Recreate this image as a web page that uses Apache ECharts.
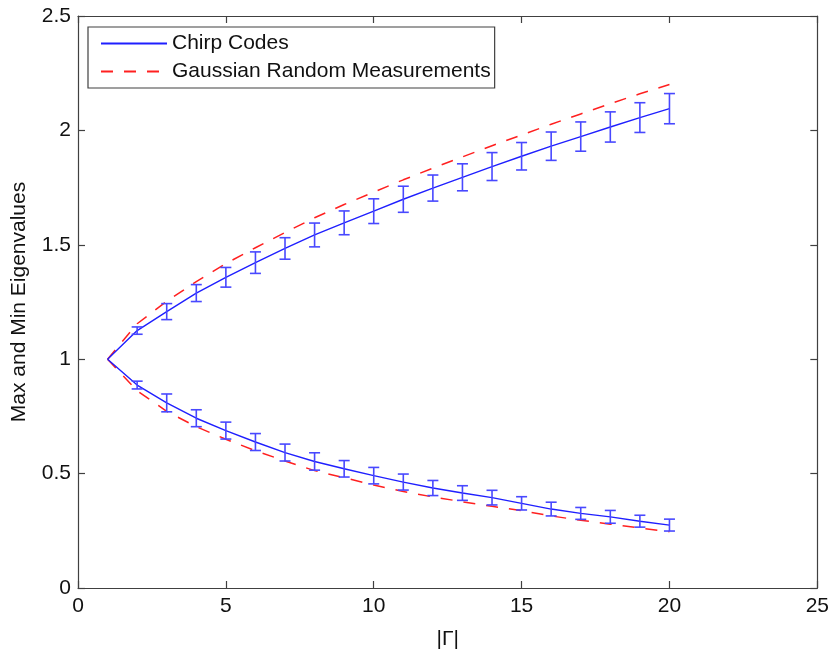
<!DOCTYPE html>
<html>
<head>
<meta charset="utf-8">
<title>Max and Min Eigenvalues</title>
<script src="https://cdn.jsdelivr.net/npm/echarts@6/dist/echarts.min.js"></script>
<style>
  html, body { margin: 0; padding: 0; background: #ffffff; overflow: hidden; }
  #chart { width: 832px; height: 655px; }
</style>
</head>
<body>
<div id="chart"></div>
<script>
// Support size |Γ|
const gammaSizes = [1, 2, 3, 4, 5, 6, 7, 8, 9, 10, 11, 12, 13, 14, 15, 16, 17, 18, 19, 20];

// Chirp codes: mean max / min eigenvalue and half-width of the error bars
const chirpMax    = [1.000, 1.125, 1.208, 1.289, 1.358, 1.422, 1.484, 1.543, 1.596, 1.647,
                     1.699, 1.748, 1.795, 1.842, 1.887, 1.931, 1.973, 2.015, 2.056, 2.095];
const chirpMaxErr = [0.000, 0.016, 0.035, 0.037, 0.043, 0.047, 0.047, 0.052, 0.052, 0.054,
                     0.057, 0.057, 0.059, 0.061, 0.060, 0.062, 0.064, 0.066, 0.065, 0.066];
const chirpMin    = [1.000, 0.887, 0.809, 0.742, 0.688, 0.638, 0.592, 0.553, 0.521, 0.491,
                     0.463, 0.437, 0.415, 0.395, 0.370, 0.345, 0.326, 0.311, 0.292, 0.275];
const chirpMinErr = [0.000, 0.017, 0.039, 0.037, 0.037, 0.037, 0.037, 0.038, 0.036, 0.036,
                     0.035, 0.033, 0.032, 0.032, 0.029, 0.030, 0.026, 0.028, 0.026, 0.026];

// Gaussian random measurements: max / min eigenvalue
const gaussMax = [1.000, 1.155, 1.253, 1.339, 1.418, 1.487, 1.554, 1.618, 1.676, 1.730,
                  1.784, 1.835, 1.884, 1.933, 1.980, 2.027, 2.072, 2.117, 2.160, 2.201];
const gaussMin = [1.000, 0.862, 0.772, 0.705, 0.650, 0.600, 0.555, 0.513, 0.482, 0.450,
                  0.422, 0.398, 0.377, 0.357, 0.338, 0.315, 0.296, 0.279, 0.262, 0.246];

const xTicks = { min: 0, max: 25, interval: 5 };
const yTicks = { min: 0, max: 2.5, interval: 0.5 };

const axisColor = '#404040';
const textColor = '#111111';
const fontFamily = 'Liberation Sans, Arial, Helvetica, sans-serif';
const fontSize = 21;
const chirpColor = '#1f1fff';
const barColor = '#4848ff';
const gaussColor = '#ff2020';

const pairs = (ys) => gammaSizes.map((g, i) => [g, ys[i]]);
const bars = (ys, es) => gammaSizes
  .map((g, i) => [g, ys[i] - es[i], ys[i] + es[i]])
  .filter(d => d[2] > d[1]);

function renderErrorBar(params, api) {
  const x = api.value(0);
  const lo = api.coord([x, api.value(1)]);
  const hi = api.coord([x, api.value(2)]);
  const hw = 5.5;
  const style = { stroke: barColor, lineWidth: 1.6, fill: null };
  return {
    type: 'group',
    children: [
      { type: 'line', shape: { x1: lo[0], y1: lo[1], x2: hi[0], y2: hi[1] }, style },
      { type: 'line', shape: { x1: hi[0] - hw, y1: hi[1], x2: hi[0] + hw, y2: hi[1] }, style },
      { type: 'line', shape: { x1: lo[0] - hw, y1: lo[1], x2: lo[0] + hw, y2: lo[1] }, style }
    ]
  };
}

const baseAxis = {
  axisLine: { show: true, onZero: false, lineStyle: { color: axisColor, width: 1.2 } },
  axisTick: { show: true, inside: true, length: 7, lineStyle: { color: axisColor, width: 1.2 } },
  splitLine: { show: false }
};

const chart = echarts.init(document.getElementById('chart'), null, { renderer: 'canvas' });

chart.setOption({
  backgroundColor: '#ffffff',
  animation: false,
  textStyle: { fontFamily },
  grid: { left: 78, top: 16, right: 14, bottom: 54, containLabel: false },
  legend: {
    orient: 'vertical',
    left: 88,
    top: 27,
    width: 412,
    padding: [6, 4, 6, 12],
    itemGap: 7,
    itemWidth: 66,
    itemHeight: 20,
    backgroundColor: '#ffffff',
    borderColor: axisColor,
    borderWidth: 1.2,
    borderRadius: 0,
    itemStyle: { color: 'rgba(0,0,0,0)', borderWidth: 0, opacity: 0 },
    data: ['Chirp Codes', 'Gaussian Random Measurements'],
    textStyle: { color: textColor, fontSize, fontFamily, padding: [0, 0, 0, 0] }
  },
  xAxis: [
    Object.assign({}, baseAxis, {
      type: 'value', position: 'bottom', ...xTicks,
      name: '|Γ|', nameLocation: 'middle', nameGap: 41,
      nameTextStyle: { color: textColor, fontSize, fontFamily },
      axisLabel: { color: textColor, fontSize, fontFamily, margin: 8 }
    }),
    Object.assign({}, baseAxis, {
      type: 'value', position: 'top', ...xTicks,
      axisLabel: { show: false }
    })
  ],
  yAxis: [
    Object.assign({}, baseAxis, {
      type: 'value', position: 'left', ...yTicks,
      name: 'Max and Min Eigenvalues', nameLocation: 'middle', nameGap: 48,
      nameTextStyle: { color: textColor, fontSize, fontFamily },
      axisLabel: { color: textColor, fontSize, fontFamily, margin: 7 }
    }),
    Object.assign({}, baseAxis, {
      type: 'value', position: 'right', ...yTicks,
      axisLabel: { show: false }
    })
  ],
  series: [
    {
      name: 'Gaussian Random Measurements', type: 'line', data: pairs(gaussMax),
      symbol: 'none', z: 2,
      lineStyle: { color: gaussColor, width: 1.5, type: [12, 11] },
      itemStyle: { color: gaussColor }
    },
    {
      name: 'Gaussian Random Measurements', type: 'line', data: pairs(gaussMin),
      symbol: 'none', z: 2,
      lineStyle: { color: gaussColor, width: 1.5, type: [12, 11] },
      itemStyle: { color: gaussColor }
    },
    {
      name: 'Chirp Codes', type: 'line', data: pairs(chirpMax),
      symbol: 'none', z: 3,
      lineStyle: { color: chirpColor, width: 1.4 },
      itemStyle: { color: chirpColor }
    },
    {
      name: 'Chirp Codes', type: 'line', data: pairs(chirpMin),
      symbol: 'none', z: 3,
      lineStyle: { color: chirpColor, width: 1.4 },
      itemStyle: { color: chirpColor }
    },
    {
      name: 'maxErrorBars', type: 'custom', data: bars(chirpMax, chirpMaxErr),
      renderItem: renderErrorBar, encode: { x: 0, y: [1, 2] }, z: 4, silent: true
    },
    {
      name: 'minErrorBars', type: 'custom', data: bars(chirpMin, chirpMinErr),
      renderItem: renderErrorBar, encode: { x: 0, y: [1, 2] }, z: 4, silent: true
    }
  ]
});
</script>
</body>
</html>
